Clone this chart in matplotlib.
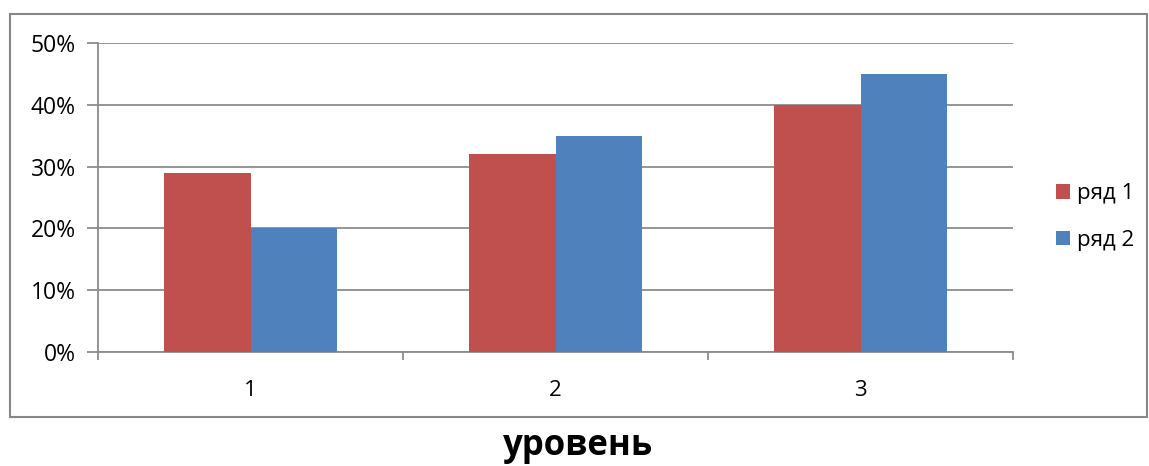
import matplotlib.pyplot as plt
from matplotlib.patches import Rectangle
import numpy as np

plt.rcParams['font.family'] = ['Open Sans', 'DejaVu Sans']

categories = ['1', '2', '3']
series_names = ['ряд 1', 'ряд 2']
row1 = [29, 32, 40]
row2 = [20, 35, 45]
colors = ['#C0504D', '#4F81BD']
y_ticks = [0, 10, 20, 30, 40, 50]

fig = plt.figure(figsize=(11.49, 4.66), dpi=100)

# outer chart frame
fig.patches.append(Rectangle((10 / 1149, 1 - 417 / 466), 1137 / 1149, 403 / 466,
                             transform=fig.transFigure, fill=False,
                             edgecolor='#878787', linewidth=1.5))

ax = fig.add_axes([98 / 1149, 1 - 352 / 466, 915 / 1149, 309 / 466])

x = np.arange(len(categories))
width = 0.283
ax.bar(x - width / 2, row1, width, color=colors[0], label=series_names[0], zorder=3)
ax.bar(x + width / 2, row2, width, color=colors[1], label=series_names[1], zorder=3)

ax.set_xlim(-0.5, len(categories) - 0.5)
ax.set_ylim(0, 50)
ax.set_yticks(y_ticks)
ax.set_yticklabels([f'{v}%' for v in y_ticks])
ax.yaxis.grid(True, color='#8c8c8c', linewidth=1.3, zorder=0)

# category ticks sit between groups, labels centred under each group
ax.set_xticks(np.arange(len(categories) + 1) - 0.5)
ax.set_xticklabels([])
ax.set_xticks(x, minor=True)
ax.set_xticklabels(categories, minor=True)
ax.tick_params(axis='x', which='minor', length=0, pad=20, labelsize=16)
ax.tick_params(axis='x', which='major', length=6, color='#8c8c8c', width=1.3)
ax.tick_params(axis='y', length=8, color='#8c8c8c', width=1.3, labelsize=16.5, pad=8)

for side in ['top', 'right']:
    ax.spines[side].set_visible(False)
for side in ['left', 'bottom']:
    ax.spines[side].set_color('#8c8c8c')
    ax.spines[side].set_linewidth(1.3)

leg = fig.legend(loc='center left', bbox_to_anchor=(1036 / 1149, 1 - 217 / 466),
                 frameon=False, fontsize=16, handlelength=0.65, handleheight=0.65,
                 handletextpad=0.3, labelspacing=1.15)

fig.text(578 / 1149, 1 - 446 / 466, 'уровень', ha='center', va='center',
         fontsize=25, fontweight='bold')

fig.savefig('out.png', dpi=100)
